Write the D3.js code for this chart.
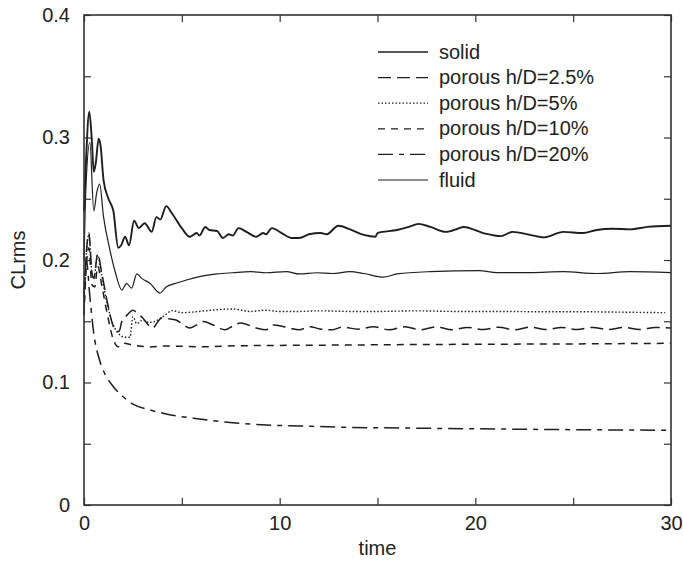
<!DOCTYPE html>
<html lang="en">
<head>
<meta charset="UTF-8">
<title>CLrms vs time</title>
<script src="https://d3js.org/d3.v7.min.js"></script>
<style>
    body { margin: 0; background: #fff; }
    svg { display: block; }
    text { font-family: "Liberation Sans", Arial, sans-serif; fill: #222; }
</style>
</head>
<body>
<svg id="chart" width="683" height="561"></svg>
<script>
// axis settings
const xTickValues = [0, 5, 10, 15, 20, 25, 30];
const xTickLabels = ["0", "", "10", "", "20", "", "30"];
const yTickValues = [0, 0.05, 0.1, 0.15, 0.2, 0.25, 0.3, 0.35, 0.4];
const yTickLabels = ["0", "", "0.1", "", "0.2", "", "0.3", "", "0.4"];

const seriesNames = ["solid", "porous h/D=2.5%", "porous h/D=5%", "porous h/D=10%", "porous h/D=20%", "fluid"];

// [time, CLrms]
const solid = [[0,0.24],[0.1,0.28],[0.27,0.321],[0.4,0.298],[0.5,0.272],[0.6,0.279],[0.75,0.299],[0.85,0.293],
    [1.0,0.265],[1.25,0.25],[1.5,0.24],[1.75,0.21],[1.9,0.212],[2.1,0.219],[2.3,0.212],[2.56,0.232],[2.8,0.226],
    [3.1,0.23],[3.46,0.223],[3.7,0.235],[3.9,0.233],[4.2,0.244],[4.5,0.238],[5.0,0.226],[5.4,0.219],[5.76,0.222],
    [5.9,0.22],[6.2,0.227],[6.4,0.2245],[6.8,0.2237],[7.1,0.218],[7.4,0.221],[7.6,0.22],[7.9,0.226],[8.3,0.223],
    [8.8,0.219],[9.15,0.222],[9.3,0.221],[9.6,0.226],[10.1,0.222],[10.6,0.218],[11.0,0.218],[11.5,0.221],[12.1,0.222],
    [12.4,0.221],[13.0,0.228],[13.6,0.225],[14.3,0.2205],[14.9,0.219],[15.0,0.222],[16.0,0.2245],[16.6,0.227],
    [17.1,0.2295],[17.7,0.227],[18.5,0.223],[19.1,0.2255],[19.4,0.227],[20.4,0.222],[21.3,0.2195],[21.9,0.223],
    [22.8,0.2205],[23.5,0.2185],[24.5,0.223],[25.5,0.222],[26.2,0.2245],[27.0,0.2255],[27.9,0.225],[28.8,0.227],[30,0.228]];

const porous25 = [[0,0.16],[0.1,0.2],[0.25,0.222],[0.4,0.19],[0.5,0.185],[0.7,0.205],[0.9,0.19],[1.2,0.165],
    [1.45,0.148],[1.67,0.1415],[1.8,0.142],[1.93,0.1497],[2.2,0.155],[2.5,0.159],[2.7,0.157],[3.0,0.1527],
    [3.5,0.1445],[3.97,0.1527],[4.3,0.152],[4.7,0.151],[5.0,0.148],[5.4,0.1445],[5.76,0.147],[6.1,0.1497],
    [6.6,0.147],[7.2,0.143],[7.6,0.146],[8.0,0.1486],[8.8,0.1445],[9.3,0.143],[9.7,0.147],[10.5,0.1445],
    [11.0,0.143],[11.55,0.1456],[12.06,0.1437],[12.7,0.143],[13.2,0.1453],[14.0,0.1435],[14.8,0.1455],
    [15.6,0.143],[16.4,0.1455],[17.2,0.143],[18.0,0.1455],[18.8,0.143],[19.6,0.145],[20.4,0.1432],[21.2,0.1452],
    [22.0,0.143],[22.8,0.1452],[23.6,0.1432],[24.4,0.145],[25.2,0.1432],[26.0,0.145],[26.8,0.1432],[27.6,0.145],
    [28.4,0.1433],[29.2,0.145],[30,0.1445]];

const porous5 = [[0,0.17],[0.1,0.2],[0.25,0.221],[0.4,0.19],[0.5,0.185],[0.7,0.204],[0.9,0.188],[1.2,0.163],
    [1.5,0.147],[1.84,0.1388],[2.1,0.137],[2.35,0.137],[2.5,0.1537],[2.7,0.148],[3.0,0.151],[3.3,0.149],
    [3.6,0.1497],[4.14,0.155],[4.5,0.1587],[5.0,0.157],[5.9,0.158],[6.5,0.159],[7.6,0.16],[8.5,0.158],[9.3,0.159],
    [10,0.158],[11,0.158],[12,0.1585],[13.6,0.158],[15,0.158],[17,0.1585],[19,0.158],[21,0.158],[23,0.1578],
    [25,0.1578],[27,0.1575],[29.7,0.157]];

const porous10 = [[0,0.155],[0.1,0.19],[0.25,0.21],[0.4,0.18],[0.55,0.178],[0.7,0.195],[0.9,0.18],[1.2,0.155],
    [1.5,0.135],[1.75,0.1292],[2.0,0.132],[2.5,0.1306],[3.37,0.129],[4.2,0.1298],[5.9,0.1292],[8,0.13],
    [10,0.1303],[13.6,0.1306],[17,0.131],[20,0.1312],[25,0.1315],[30,0.132]];

const porous20 = [[0,0.17],[0.12,0.2],[0.3,0.17],[0.5,0.14],[0.8,0.118],[1.1,0.106],[1.5,0.0966],[2.0,0.0884],
    [2.5,0.0824],[3.37,0.0776],[4.2,0.0743],[5.9,0.0702],[7.6,0.0672],[9.3,0.0653],[11,0.0645],[13.6,0.0634],
    [17,0.0627],[20,0.0622],[25,0.0615],[30,0.061]];

const fluid = [[0,0.2],[0.1,0.26],[0.3,0.296],[0.5,0.24],[0.65,0.255],[0.8,0.262],[1.0,0.235],[1.3,0.21],
    [1.6,0.19],[1.93,0.1755],[2.18,0.181],[2.43,0.177],[2.7,0.1886],[2.95,0.185],[3.37,0.181],[3.88,0.173],
    [4.2,0.178],[4.7,0.181],[5.24,0.1837],[5.9,0.1864],[6.8,0.1886],[7.6,0.1896],[8.5,0.1905],[9.3,0.1896],
    [10.35,0.1905],[11.0,0.1886],[11.9,0.1896],[12.7,0.189],[13.6,0.1905],[14.3,0.189],[15.3,0.186],[16.0,0.1886],
    [17.7,0.1905],[20.2,0.1913],[21.1,0.1897],[22.8,0.1897],[24.5,0.1905],[26.2,0.189],[27.9,0.1905],[30,0.1897]];

const allSeries = [solid, porous25, porous5, porous10, porous20, fluid];
const dashes = [null, "13,6", "1.5,2", "7,6", "15,6,5,6", null];
const widths = [1.9, 1.5, 1.4, 1.5, 1.5, 1.2];

const svg = d3.select("#chart");
const margin = { left: 84, right: 12, top: 15, bottom: 56 };
const width = 683 - margin.left - margin.right;
const height = 561 - margin.top - margin.bottom;

const x = d3.scaleLinear().domain([0, 30]).range([0, width]);
const y = d3.scaleLinear().domain([0, 0.4]).range([height, 0]);

const g = svg.append("g").attr("transform", `translate(${margin.left},${margin.top})`);

// lines
const line = d3.line()
    .x(d => x(d[0]))
    .y(d => y(d[1]))
    .curve(d3.curveMonotoneX);

allSeries.forEach((s, i) => {
    g.append("path")
        .datum(s)
        .attr("fill", "none")
        .attr("stroke", "#1e1e1e")
        .attr("stroke-width", widths[i])
        .attr("stroke-dasharray", dashes[i])
        .attr("d", line);
});

// axes, ticks point inward
const xAxis = g.append("g")
    .attr("transform", `translate(0,${height})`)
    .call(d3.axisBottom(x).tickValues(xTickValues).tickFormat((d, i) => xTickLabels[i])
        .tickSizeInner(-7).tickSizeOuter(0).tickPadding(11));
g.append("g")
    .call(d3.axisTop(x).tickValues(xTickValues).tickFormat("").tickSizeInner(-7).tickSizeOuter(0));
const yAxis = g.append("g")
    .call(d3.axisLeft(y).tickValues(yTickValues).tickFormat((d, i) => yTickLabels[i])
        .tickSizeInner(-7).tickSizeOuter(0).tickPadding(14));
g.append("g")
    .attr("transform", `translate(${width},0)`)
    .call(d3.axisRight(y).tickValues(yTickValues).tickFormat("").tickSizeInner(-7).tickSizeOuter(0));

g.selectAll(".domain").remove();
g.selectAll(".tick line").attr("stroke", "#333").attr("stroke-width", 1.2);
g.selectAll(".tick text").style("font-size", "20px").attr("fill", "#222");

g.append("rect")
    .attr("width", width)
    .attr("height", height)
    .attr("fill", "none")
    .attr("stroke", "#333")
    .attr("stroke-width", 1.6);

// axis titles
svg.append("text")
    .attr("x", margin.left + width / 2)
    .attr("y", 555)
    .attr("text-anchor", "middle")
    .style("font-size", "20px")
    .text("time");

svg.append("text")
    .attr("transform", `translate(25,${margin.top + height / 2}) rotate(-90)`)
    .attr("text-anchor", "middle")
    .style("font-size", "20px")
    .text("CLrms");

// legend
const legend = svg.append("g").attr("transform", "translate(378,52)");
seriesNames.forEach((name, i) => {
    const row = legend.append("g").attr("transform", `translate(0,${i * 25.6})`);
    row.append("line")
        .attr("x1", 0).attr("x2", 50)
        .attr("stroke", "#1e1e1e")
        .attr("stroke-width", widths[i] > 1.6 ? 1.4 : 1.2)
        .attr("stroke-dasharray", dashes[i]);
    row.append("text")
        .attr("x", 61)
        .attr("dy", "0.33em")
        .style("font-size", "20px")
        .text(name);
});
</script>
</body>
</html>
